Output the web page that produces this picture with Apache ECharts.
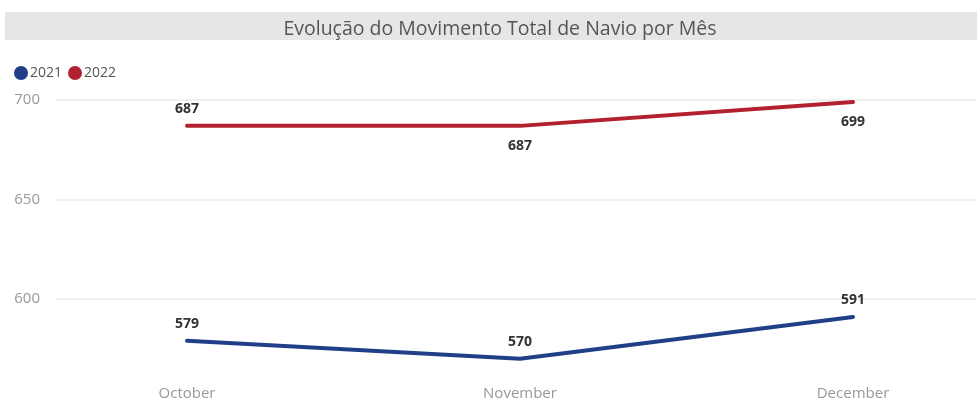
<!DOCTYPE html>
<html><head><meta charset="utf-8">
<script src="https://cdn.jsdelivr.net/npm/echarts@6/dist/echarts.min.js"></script>
<style>html,body{margin:0;padding:0;background:#fff}#c{width:977px;height:402px}</style>
</head><body><div id="c"></div>
<script>
const months = ['October', 'November', 'December'];
const values2021 = [579, 570, 591];
const values2022 = [687, 687, 699];
const yTicks = [600, 650, 700];

const pos2021 = ['top', 'top', 'top'];
const pos2022 = ['top', 'bottom', 'bottom'];

const chart = echarts.init(document.getElementById('c'));
const yMin = 550, yMax = 700, gridTop = 100, gridBottom = 3.5;
const lbl = {show: true, color: '#333', fontFamily: 'Noto Sans', fontWeight: 'bold', fontSize: 14, distance: 9};
function mk(vals, pos) {
  return vals.map((v, i) => ({value: v, label: {position: pos[i], distance: pos[i] === 'bottom' ? 13 : 9}}));
}
chart.setOption({
  animation: false,
  graphic: [{type: 'rect', shape: {x: 5, y: 12, width: 972, height: 28}, style: {fill: '#e6e6e6'}, z: -1}],
  title: {text: 'Evolução do Movimento Total de Navio por Mês', left: 495, textAlign: 'center', top: 14,
    textStyle: {fontFamily: 'Open Sans', fontWeight: 'normal', fontSize: 19.5, color: '#555'}},
  legend: {left: 9, top: 61, icon: 'circle', itemWidth: 14, itemHeight: 14, itemGap: 6,
    textStyle: {fontFamily: 'Open Sans', fontSize: 14, color: '#555', padding: [0, 0, 0, -3]}},
  grid: [
    {left: 55, right: 0, top: gridTop, bottom: gridBottom},
    {left: 187, right: 124, top: gridTop, bottom: gridBottom}
  ],
  xAxis: [
    {type: 'value', gridIndex: 0, show: false, min: 0, max: 1},
    {type: 'category', gridIndex: 1, data: months, boundaryGap: false,
      axisLine: {show: false}, axisTick: {show: false},
      axisLabel: {inside: true, margin: -3, verticalAlign: 'bottom', color: '#999', fontFamily: 'Open Sans', fontSize: 15}}
  ],
  yAxis: [
    {type: 'value', gridIndex: 0, min: yMin, max: yMax, interval: 50,
      axisLine: {show: false}, axisTick: {show: false},
      axisLabel: {showMinLabel: false, margin: 15, color: '#999', fontFamily: 'Open Sans', fontSize: 15,
        formatter: v => yTicks.includes(v) ? String(v) : ''},
      splitLine: {lineStyle: {color: ['rgba(0,0,0,0)', '#ebebeb', '#ebebeb', '#ebebeb'], width: 1.5}}},
    {type: 'value', gridIndex: 1, min: yMin, max: yMax, interval: 50, show: false, splitLine: {show: false}}
  ],
  series: [
    {name: '2021', type: 'line', xAxisIndex: 1, yAxisIndex: 1, data: mk(values2021, pos2021),
      showSymbol: true, symbol: 'circle', symbolSize: 1, color: '#203f88',
      lineStyle: {width: 4, cap: 'round', join: 'round'}, label: lbl},
    {name: '2022', type: 'line', xAxisIndex: 1, yAxisIndex: 1, data: mk(values2022, pos2022),
      showSymbol: true, symbol: 'circle', symbolSize: 1, color: '#b3202f',
      lineStyle: {width: 4, cap: 'round', join: 'round'}, label: lbl}
  ]
});
</script></body></html>
